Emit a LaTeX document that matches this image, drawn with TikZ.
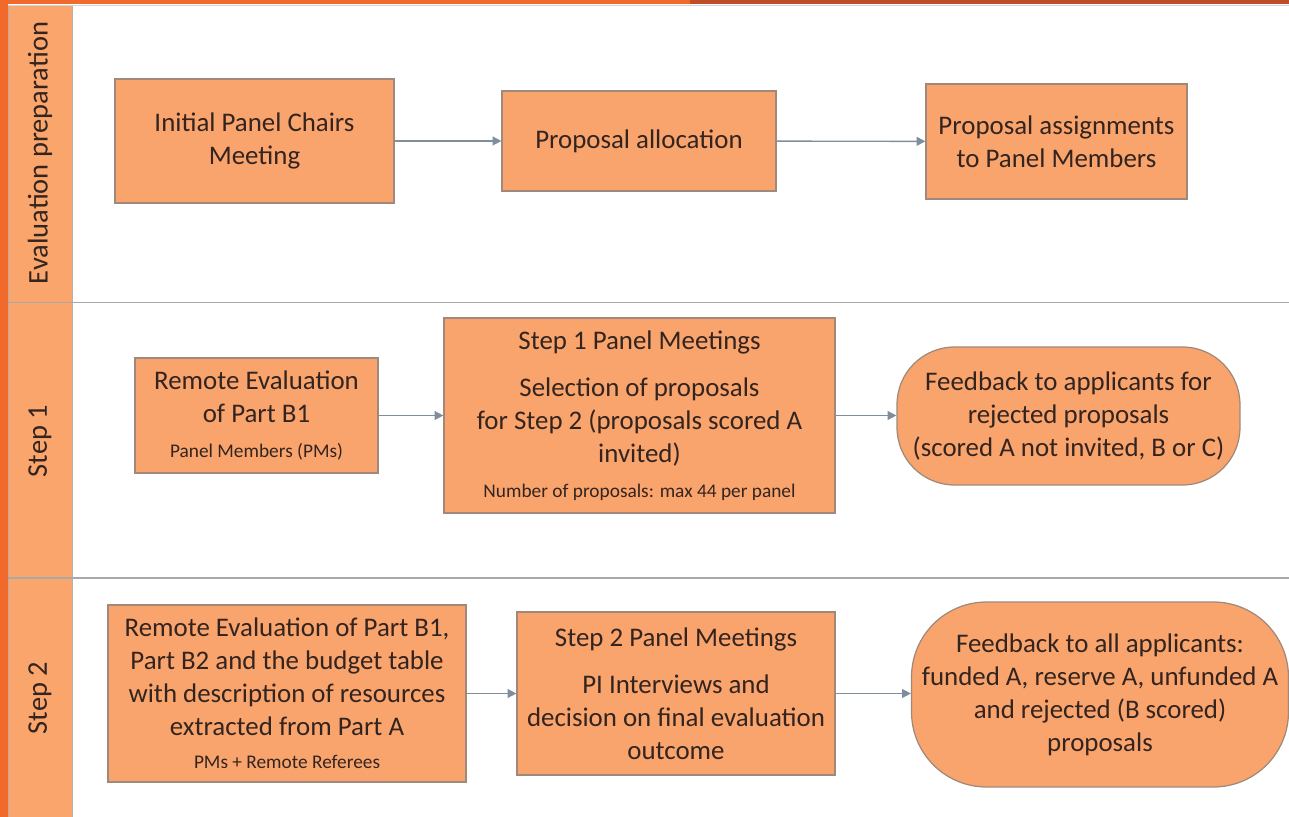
\documentclass[tikz,border=0pt]{standalone}
\usepackage{fontspec}
\setmainfont{Carlito}
\usetikzlibrary{arrows.meta}
\definecolor{brightorange}{HTML}{F26A2B}
\definecolor{darkorange}{HTML}{C04D29}
\definecolor{lanefill}{HTML}{FAA56C}
\definecolor{boxfill}{HTML}{F9A46D}
\definecolor{boxline}{HTML}{A0887A}
\definecolor{laneline}{HTML}{A9A9AB}
\definecolor{arrowgray}{HTML}{7F8E9C}
\definecolor{txt}{HTML}{33241F}
\newcommand{\smalltxt}{\fontsize{11}{13}\selectfont}
\begin{document}
\begin{tikzpicture}[x=0.02cm,y=-0.02cm,
  every node/.style={font=\fontsize{15.3}{18.8}\selectfont, text=txt},
  box/.style={draw=boxline, line width=0.7pt, fill=boxfill, align=center, inner sep=0pt},
  lanelabel/.style={rotate=90, font=\fontsize{16.2}{18}\selectfont},
  arr/.style={draw=arrowgray, line width=0.8pt, -{Triangle[length=5pt,width=5pt]}}
]
\useasboundingbox (0,0) rectangle (1289,817);
\fill[white] (0,0) rectangle (1289,817);
% lane label column
\fill[lanefill] (8,5) rectangle (72,817);
\draw[boxline!70, line width=0.5pt] (8,5) -- (8,817) (72,5) -- (72,817);
% top bar and left strip
\fill[brightorange] (0,0) rectangle (690,4.5);
\fill[darkorange] (690,0) rectangle (1289,4.5);
\draw[laneline!50, line width=0.5pt] (8,5.5) -- (1289,5.5);
\fill[brightorange] (0,0) rectangle (7.5,817);
% lane dividers
\draw[laneline, line width=1.1pt] (8,302.5) -- (1289,302.5);
\draw[laneline, line width=1.1pt] (8,578) -- (1289,578);
% lane labels
\node[lanelabel] (l1) at (40,153) {Evaluation preparation};
\node[lanelabel] (l2) at (40,441) {Step 1};
\node[lanelabel] (l3) at (40,698) {Step 2};
% lane 1
\node[box, minimum width=5.58cm, minimum height=2.48cm] (a) at (254.5,141) {Initial Panel Chairs\\Meeting};
\node[box, minimum width=5.48cm, minimum height=2.0cm] (b) at (639,141) {Proposal allocation};
\node[box, minimum width=5.22cm, minimum height=2.3cm] (c) at (1056.5,141.5) {Proposal assignments\\to Panel Members};
% lane 2
\node[box, minimum width=4.86cm, minimum height=2.3cm] (d) at (256.5,415.5) {Remote Evaluation\\of Part B1\\[1pt]{\smalltxt Panel Members (PMs)}};
\node[box, minimum width=7.82cm, minimum height=3.9cm] (e) at (639.5,415.5) {Step 1 Panel Meetings\\[8pt]Selection of proposals\\for Step 2 (proposals scored A\\invited)\\[1pt]{\smalltxt Number of proposals: max 44 per panel}};
\node[box, rounded corners=1.15cm, minimum width=6.86cm, minimum height=2.76cm] (f) at (1068.5,416) {Feedback to applicants for\\rejected proposals\\(scored A not invited, B or C)};
% lane 3
\node[box, minimum width=7.16cm, minimum height=3.54cm] (g) at (287,693.5) {Remote Evaluation of Part B1,\\Part B2 and the budget table\\with description of resources\\extracted from Part A\\[0pt]{\smalltxt PMs + Remote Referees}};
\node[box, minimum width=6.36cm, minimum height=3.26cm] (h) at (676,693.5) {Step 2 Panel Meetings\\[8pt]PI Interviews and\\decision on final evaluation\\outcome};
\node[box, rounded corners=1.5cm, minimum width=7.54cm, minimum height=3.7cm] (i) at (1100,694.5) {Feedback to all applicants:\\funded A, reserve A, unfunded A\\and rejected (B scored)\\proposals};
% connectors
\draw[arr] (a) -- (b);
\draw[arr] (b) -- (c);
\draw[arr] (d) -- (e);
\draw[arr] (e.east) -- (e.east -| f.west);
\draw[arr] (g) -- (h);
\draw[arr] (h.east) -- (h.east -| i.west);
\end{tikzpicture}
\end{document}
